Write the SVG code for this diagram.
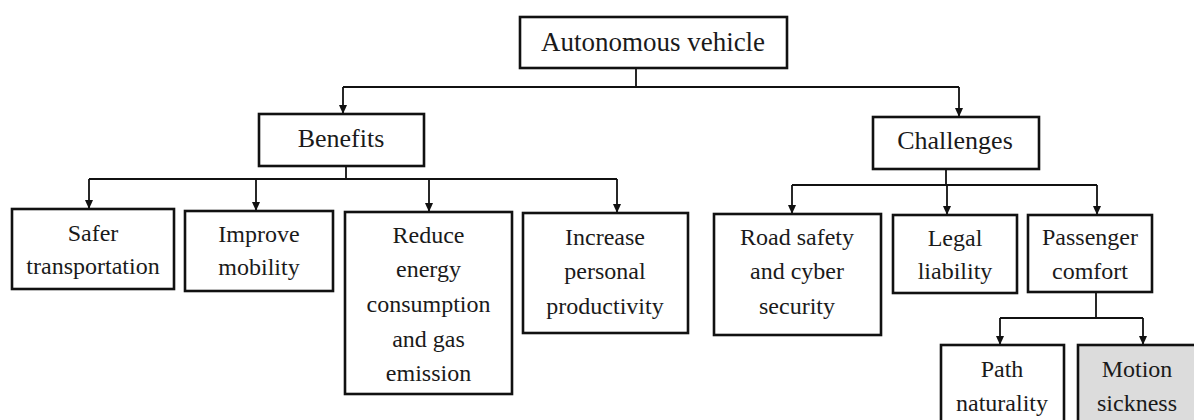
<svg xmlns="http://www.w3.org/2000/svg" width="1194" height="420" viewBox="0 0 1194 420">
<style>
.box{fill:#fff;stroke:#111;stroke-width:2.6}
.gray{fill:#dcdcdc}
.t{font-family:"Liberation Serif","Times New Roman",serif;font-size:24px;fill:#1a1a1a;text-anchor:middle}
.big{font-size:27px}
.h{font-size:26px}
.c{fill:none;stroke:#111;stroke-width:1.8}
.a{fill:none;stroke:#111;stroke-width:1.8;marker-end:url(#arr)}
</style>
<defs>
<marker id="arr" markerUnits="userSpaceOnUse" markerWidth="10" markerHeight="10" viewBox="0 0 10 10" refX="9" refY="5" orient="auto">
<path d="M0,1 L9,5 L0,9 z" fill="#111"/>
</marker>
</defs>
<rect width="1194" height="420" fill="#fff"/>
<g id="connectors">
<path class="c" d="M636,68 V87 M343,87 H959"/>
<path class="a" d="M343,87 V114"/>
<path class="a" d="M959,87 V117"/>
<path class="c" d="M346,166 V179 M89,179 H617"/>
<path class="a" d="M89,179 V209"/>
<path class="a" d="M256,179 V211"/>
<path class="a" d="M429,179 V212"/>
<path class="a" d="M617,179 V213"/>
<path class="c" d="M946,169 V185 M792,185 H1097"/>
<path class="a" d="M792,185 V214"/>
<path class="a" d="M947,185 V215"/>
<path class="a" d="M1097,185 V215"/>
<path class="c" d="M1096,292 V318 M1000,318 H1143"/>
<path class="a" d="M1000,318 V345"/>
<path class="a" d="M1143,318 V345"/>
</g>
<g id="autonomous-vehicle">
<rect class="box" x="520" y="17" width="267" height="51"/>
<text class="t big" x="653" y="51">Autonomous vehicle</text>
</g>
<g id="benefits">
<rect class="box" x="259" y="114" width="165" height="52"/>
<text class="t h" x="341" y="147">Benefits</text>
</g>
<g id="challenges">
<rect class="box" x="873" y="117" width="166" height="52"/>
<text class="t h" x="955" y="149">Challenges</text>
</g>
<g id="safer-transportation">
<rect class="box" x="12" y="209" width="162" height="80"/>
<text class="t" x="93" y="241">Safer</text>
<text class="t" x="93" y="274">transportation</text>
</g>
<g id="improve-mobility">
<rect class="box" x="185" y="211" width="148" height="80"/>
<text class="t" x="259" y="242">Improve</text>
<text class="t" x="259" y="275">mobility</text>
</g>
<g id="reduce-energy">
<rect class="box" x="345" y="212" width="167" height="182"/>
<text class="t" x="428.5" y="243">Reduce</text>
<text class="t" x="428.5" y="277">energy</text>
<text class="t" x="428.5" y="312">consumption</text>
<text class="t" x="428.5" y="347">and gas</text>
<text class="t" x="428.5" y="381">emission</text>
</g>
<g id="increase-productivity">
<rect class="box" x="523" y="213" width="165" height="120"/>
<text class="t" x="605" y="245">Increase</text>
<text class="t" x="605" y="279">personal</text>
<text class="t" x="605" y="314">productivity</text>
</g>
<g id="road-safety">
<rect class="box" x="714" y="214" width="167" height="121"/>
<text class="t" x="797" y="245">Road safety</text>
<text class="t" x="797" y="279">and cyber</text>
<text class="t" x="797" y="314">security</text>
</g>
<g id="legal-liability">
<rect class="box" x="893" y="215" width="124" height="78"/>
<text class="t" x="955" y="246">Legal</text>
<text class="t" x="955" y="279">liability</text>
</g>
<g id="passenger-comfort">
<rect class="box" x="1028" y="215" width="124" height="77"/>
<text class="t" x="1090" y="245">Passenger</text>
<text class="t" x="1090" y="279">comfort</text>
</g>
<g id="path-naturality">
<rect class="box" x="941" y="345" width="123" height="85"/>
<text class="t" x="1002" y="377">Path</text>
<text class="t" x="1002" y="411">naturality</text>
</g>
<g id="motion-sickness">
<rect class="box gray" x="1078" y="345" width="120" height="85"/>
<text class="t" x="1137" y="377">Motion</text>
<text class="t" x="1137" y="411">sickness</text>
</g>
</svg>
